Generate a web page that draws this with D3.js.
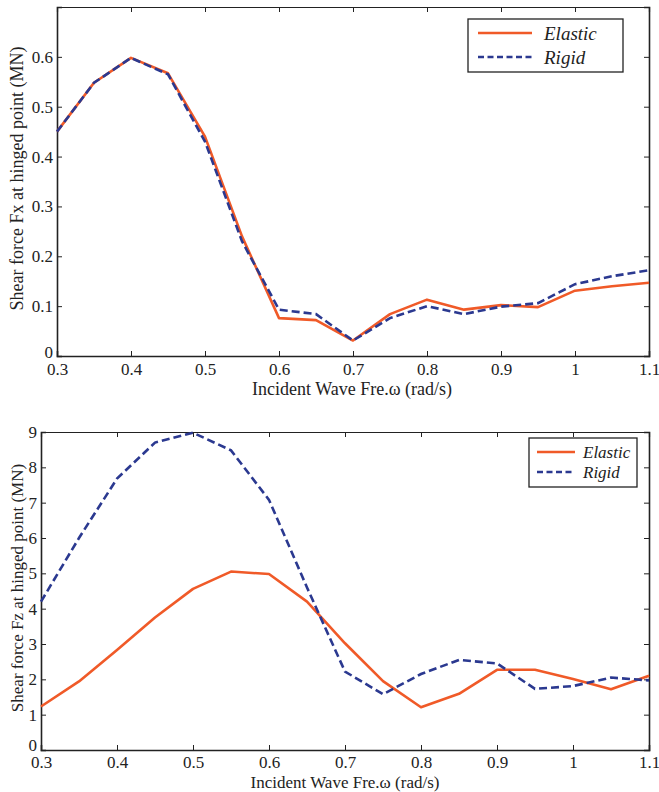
<!DOCTYPE html>
<html>
<head>
<meta charset="utf-8">
<script src="https://cdn.jsdelivr.net/npm/d3@7.9.0/dist/d3.min.js"></script>
<style>
  body { margin: 0; background: #fff; }
  svg text { font-family: "Liberation Serif", "Times New Roman", Times, serif; fill: #222; }
  .axis path, .axis line { stroke: #222; }
</style>
</head>
<body>
<svg width="659" height="792"></svg>
<script>
// frequency (rad/s)
const freq = [0.3, 0.35, 0.4, 0.45, 0.5, 0.55, 0.6, 0.65, 0.7, 0.75, 0.8, 0.85, 0.9, 0.95, 1.0, 1.05, 1.1];

// Fx shear force (MN)
const fxElastic = [0.45, 0.548, 0.598, 0.567, 0.44, 0.24, 0.076, 0.072, 0.031, 0.084, 0.113, 0.093, 0.102, 0.098, 0.131, 0.14, 0.147];
const fxRigid   = [0.45, 0.548, 0.598, 0.565, 0.43, 0.23, 0.093, 0.084, 0.031, 0.076, 0.100, 0.084, 0.099, 0.106, 0.144, 0.16, 0.172];

// Fz shear force (MN)
const fzElastic = [1.23, 1.94, 2.83, 3.75, 4.56, 5.05, 4.98, 4.2, 3.02, 1.95, 1.21, 1.59, 2.27, 2.27, 2.01, 1.72, 2.1];
const fzRigid   = [4.2, 6.0, 7.68, 8.7, 8.98, 8.48, 7.08, 4.6, 2.22, 1.58, 2.15, 2.55, 2.45, 1.73, 1.81, 2.05, 1.97];

const xTicks = [0.3, 0.4, 0.5, 0.6, 0.7, 0.8, 0.9, 1.0, 1.1];
const fxTicks = [0, 0.1, 0.2, 0.3, 0.4, 0.5, 0.6];
const fzTicks = [0, 1, 2, 3, 4, 5, 6, 7, 8, 9];
const seriesNames = ["Elastic", "Rigid"];

const orange = "#f05a28", blue = "#2b3990";
const svg = d3.select("svg");

function drawPanel(opt) {
  const g = svg.append("g");
  const x = d3.scaleLinear().domain([0.3, 1.1]).range([opt.left, opt.right]);
  const y = d3.scaleLinear().domain(opt.yDomain).range([opt.bottom, opt.top]);
  const fmt = d => String(+d.toFixed(1));

  // bottom / top axes (ticks inward, box on)
  g.append("g").attr("class", "axis").attr("transform", `translate(0,${opt.bottom})`)
    .call(d3.axisBottom(x).tickValues(xTicks).tickSize(-5).tickPadding(opt.xPad).tickFormat(fmt))
    .call(a => a.select(".domain").attr("stroke-width", 1.6));
  g.append("g").attr("class", "axis").attr("transform", `translate(0,${opt.top})`)
    .call(d3.axisTop(x).tickValues(xTicks).tickSize(-5).tickFormat(""))
    .call(a => a.select(".domain").attr("stroke-width", 1.2));
  g.append("g").attr("class", "axis y").attr("transform", `translate(${opt.left},0)`)
    .call(d3.axisLeft(y).tickValues(opt.yTicks).tickSize(-5).tickPadding(4).tickFormat(fmt))
    .call(a => a.select(".domain").attr("stroke-width", 1.6));
  g.append("g").attr("class", "axis").attr("transform", `translate(${opt.right},0)`)
    .call(d3.axisRight(y).tickValues(opt.yTicks).tickSize(-5).tickFormat(""))
    .call(a => a.select(".domain").attr("stroke-width", 1.6));

  g.selectAll(".axis text").style("font-size", "17px").attr("fill", "#222");
  g.selectAll(".axis .tick line").attr("stroke", "#222");
  // the zero label sits a little above the corner
  g.selectAll(".axis.y .tick text").filter(d => d === 0).attr("dy", opt.zeroDy);

  const line = vals => d3.line().x((d, i) => x(freq[i])).y(d => y(d))(vals);

  g.append("path").attr("d", line(opt.elastic)).attr("fill", "none")
    .attr("stroke", orange).attr("stroke-width", 2.6).attr("stroke-linejoin", "round");
  g.append("path").attr("d", line(opt.rigid)).attr("fill", "none")
    .attr("stroke", blue).attr("stroke-width", 2.6).attr("stroke-dasharray", "8,4");

  // axis titles
  g.append("text").attr("x", opt.xTitleX).attr("y", opt.xTitleY)
    .attr("text-anchor", "middle").style("font-size", opt.titleFs + "px")
    .text("Incident Wave Fre.ω (rad/s)");
  g.append("text").attr("transform", `translate(${opt.yTitleX},${(opt.top + opt.bottom) / 2 - 3}) rotate(-90)`)
    .attr("text-anchor", "middle").style("font-size", opt.titleFs + "px").text(opt.yTitle);

  // legend
  const L = opt.legend;
  g.append("rect").attr("x", L.x).attr("y", L.y).attr("width", L.w).attr("height", L.h)
    .attr("fill", "#fff").attr("stroke", "#222").attr("stroke-width", 1.3);
  seriesNames.forEach((name, i) => {
    const ly = L.y + L.first + i * L.step;
    g.append("line").attr("x1", L.x + L.pad).attr("x2", L.x + L.pad + L.len)
      .attr("y1", ly).attr("y2", ly)
      .attr("stroke", i === 0 ? orange : blue).attr("stroke-width", 2.6)
      .attr("stroke-dasharray", i === 0 ? null : "6,3.5");
    g.append("text").attr("x", L.x + L.pad + L.len + L.gap).attr("y", ly + L.fs * 0.36)
      .style("font-size", L.fs + "px").style("font-style", "italic").text(name);
  });
}

drawPanel({
  left: 57, right: 649, top: 7, bottom: 356,
  yDomain: [0, 0.7], yTicks: fxTicks,
  elastic: fxElastic, rigid: fxRigid,
  yTitle: "Shear force Fx at hinged point (MN)", yTitleX: 23,
  xTitleX: 352, xTitleY: 395, titleFs: 18, xPad: 7, zeroDy: "0.1em",
  legend: { x: 468, y: 19, w: 155, h: 53, first: 14, step: 24, pad: 10, len: 54, gap: 12, fs: 19 }
});

drawPanel({
  left: 41, right: 649, top: 432, bottom: 750,
  yDomain: [0, 9], yTicks: fzTicks,
  elastic: fzElastic, rigid: fzRigid,
  yTitle: "Shear force Fz at hinged point (MN)", yTitleX: 23,
  xTitleX: 345, xTitleY: 788, titleFs: 17, xPad: 6, zeroDy: "0em",
  legend: { x: 529, y: 438, w: 108, h: 49, first: 14, step: 20, pad: 8, len: 38, gap: 8, fs: 17 }
});
</script>
</body>
</html>
